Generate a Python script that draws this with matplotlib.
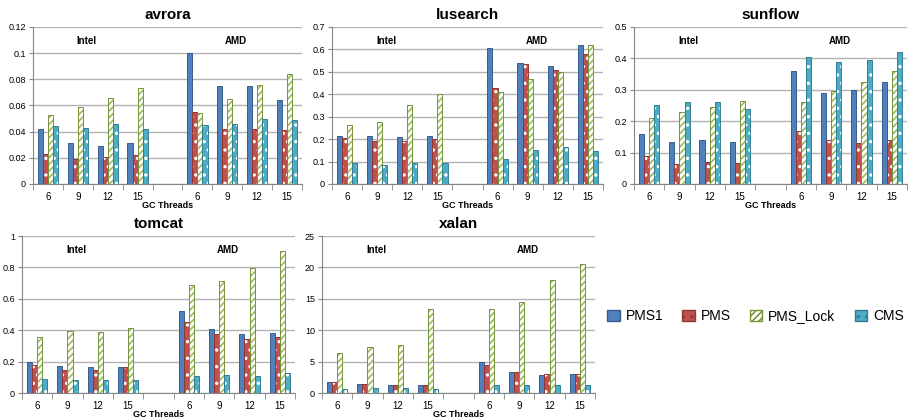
import matplotlib

matplotlib.use("Agg")
import matplotlib.pyplot as plt
import numpy as np

plt.rcParams["font.family"] = ["Liberation Sans", "DejaVu Sans"]
plt.rcParams["hatch.linewidth"] = 1.2

series = ["PMS1", "PMS", "PMS_Lock", "CMS"]
thread_labels = ["6", "9", "12", "15", "", "6", "9", "12", "15"]

# values per benchmark: rows = series, cols = Intel 6,9,12,15, AMD 6,9,12,15
avrora = [
    [0.042, 0.031, 0.029, 0.031, 0.100, 0.075, 0.075, 0.064],
    [0.023, 0.019, 0.021, 0.022, 0.055, 0.042, 0.042, 0.041],
    [0.053, 0.059, 0.066, 0.073, 0.054, 0.065, 0.076, 0.084],
    [0.044, 0.043, 0.046, 0.042, 0.045, 0.046, 0.050, 0.049],
]
lusearch = [
    [0.215, 0.215, 0.210, 0.215, 0.605, 0.540, 0.525, 0.620],
    [0.205, 0.190, 0.190, 0.200, 0.430, 0.535, 0.510, 0.580],
    [0.265, 0.275, 0.350, 0.400, 0.410, 0.470, 0.500, 0.620],
    [0.095, 0.085, 0.095, 0.095, 0.110, 0.150, 0.165, 0.145],
]
sunflow = [
    [0.160, 0.135, 0.140, 0.135, 0.360, 0.290, 0.300, 0.325],
    [0.090, 0.065, 0.070, 0.068, 0.170, 0.140, 0.130, 0.140],
    [0.210, 0.230, 0.245, 0.265, 0.260, 0.295, 0.325, 0.360],
    [0.250, 0.260, 0.260, 0.240, 0.405, 0.390, 0.395, 0.420],
]
tomcat = [
    [0.200, 0.170, 0.165, 0.165, 0.520, 0.405, 0.375, 0.380],
    [0.180, 0.145, 0.145, 0.165, 0.450, 0.375, 0.345, 0.355],
    [0.355, 0.395, 0.390, 0.415, 0.690, 0.715, 0.795, 0.905],
    [0.090, 0.080, 0.080, 0.080, 0.110, 0.115, 0.110, 0.130],
]
xalan = [
    [1.8, 1.4, 1.2, 1.2, 5.0, 3.3, 2.8, 3.0],
    [1.8, 1.4, 1.2, 1.2, 4.4, 3.3, 3.0, 3.1],
    [6.4, 7.3, 7.7, 13.4, 13.4, 14.5, 18.0, 20.5],
    [0.7, 0.8, 0.8, 0.7, 1.3, 1.3, 1.3, 1.3],
]

panels = [
    ("avrora", avrora, 0.12, 0.02, [0.0363, 0.5609, 0.2963, 0.3747]),
    ("lusearch", lusearch, 0.7, 0.1, [0.3656, 0.5609, 0.2985, 0.3747]),
    ("sunflow", sunflow, 0.5, 0.1, [0.6982, 0.5609, 0.3007, 0.3747]),
    ("tomcat", tomcat, 1.0, 0.2, [0.0242, 0.0620, 0.3007, 0.3747]),
    ("xalan", xalan, 25, 5, [0.3546, 0.0620, 0.3007, 0.3747]),
]

face = ["#4F81BD", "#C0504D", "white", "#4BACC6"]
edge = ["#385D8A", "#8C3836", "#77933C", "#357D91"]
hatch = [None, "..", "/////", ".."]
hatch_col = [None, "white", "#9BBB59", "white"]

positions = [0, 1, 2, 3, 5, 6, 7, 8]
bar_w = 0.17

fig = plt.figure(figsize=(9.08, 4.19), dpi=100)

for name, data, ymax, step, rect in panels:
    ax = fig.add_axes(rect)
    x = np.array(positions, dtype=float)
    for i, vals in enumerate(data):
        xs = x + (i - 1.5) * bar_w
        if hatch[i] is None:
            ax.bar(xs, vals, bar_w, color=face[i], edgecolor=edge[i],
                   linewidth=0.7, zorder=3)
        else:
            ax.bar(xs, vals, bar_w, color=face[i], edgecolor=hatch_col[i],
                   hatch=hatch[i], linewidth=0, zorder=3)
            ax.bar(xs, vals, bar_w, fill=False, edgecolor=edge[i],
                   linewidth=0.7, zorder=4)
    ax.set_xlim(-0.5, 8.5)
    ax.set_ylim(0, ymax)
    ticks = np.arange(0, ymax + step / 2, step)
    ax.set_yticks(ticks)
    ax.set_yticklabels(["{:g}".format(round(t, 3)) for t in ticks])
    ax.set_xticks(range(9))
    ax.set_xticklabels(thread_labels)
    ax.set_xticks(np.arange(-0.5, 9, 1), minor=True)
    ax.tick_params(axis="x", which="major", length=0, labelsize=7, pad=6)
    ax.tick_params(axis="x", which="minor", length=4, color="#868686")
    ax.tick_params(axis="y", labelsize=6.5, length=3, pad=2, color="#868686",
                   direction="out")
    ax.grid(axis="y", color="#B3B3B3", linewidth=1.0, zorder=0)
    for s in ["top", "right"]:
        ax.spines[s].set_visible(False)
    for s in ["left", "bottom"]:
        ax.spines[s].set_color("#868686")
    ax.set_title(name, fontsize=11, fontweight="bold", pad=6)
    ax.set_xlabel("GC Threads", fontsize=6.5, fontweight="bold", labelpad=-1)
    ax.text(1.3, ymax * 0.89, "Intel", fontsize=7, fontweight="bold", ha="center")
    ax.text(6.3, ymax * 0.89, "AMD", fontsize=7, fontweight="bold", ha="center")

handles = []
for i in range(4):
    if hatch[i] is None:
        h = plt.Rectangle((0, 0), 1, 1, facecolor=face[i], edgecolor=edge[i])
    else:
        h = plt.Rectangle((0, 0), 1, 1, facecolor=face[i], edgecolor=edge[i],
                          hatch=hatch[i])
    handles.append(h)
fig.legend(handles, series, loc="center", bbox_to_anchor=(0.832, 0.245),
           ncol=4, frameon=False, fontsize=10, handlelength=0.9,
           handleheight=0.9, handletextpad=0.4, columnspacing=1.4)

fig.savefig("out.png", dpi=100)
